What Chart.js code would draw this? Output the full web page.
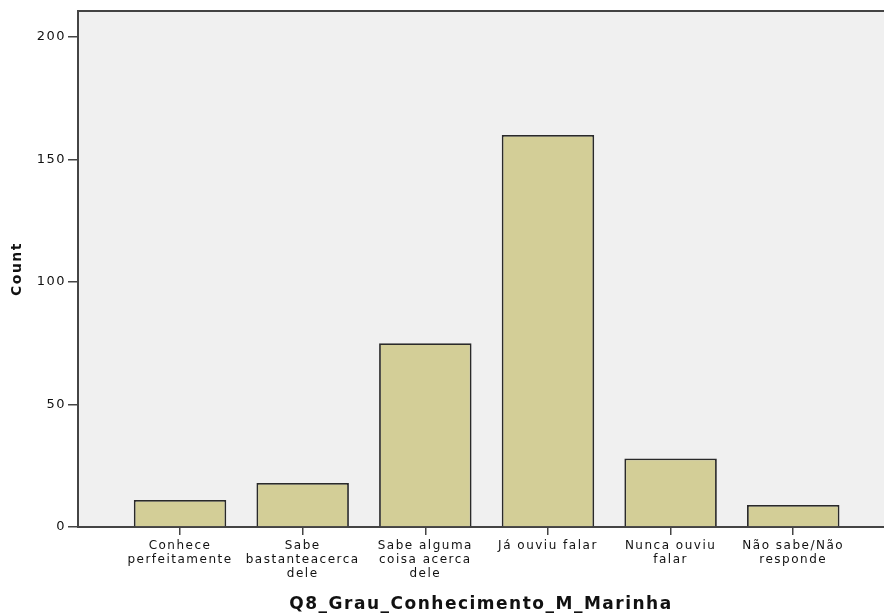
<!DOCTYPE html>
<html>
<head>
<meta charset="utf-8">
<script src="https://cdn.jsdelivr.net/npm/chart.js@4.4.1/dist/chart.umd.min.js"></script>
<style>
  html, body { margin: 0; padding: 0; background: #fff; }
  canvas { display: block; }
</style>
</head>
<body>
<canvas id="knowChart" width="884" height="615"></canvas>
<script>
// Q8 knowledge level counts
const categories = [
    ['Conhece', 'perfeitamente'],
    ['Sabe', 'bastanteacerca', 'dele'],
    ['Sabe alguma', 'coisa acerca', 'dele'],
    'Já ouviu falar',
    ['Nunca ouviu', 'falar'],
    ['Não sabe/Não', 'responde']
];
const counts = [11, 18, 75, 160, 28, 9];
const yTicks = [0, 50, 100, 150, 200];

const FONT = 'DejaVu Sans, Liberation Sans, sans-serif';

// plot panel background + top frame line, and the wide text look of the original
const panelPlugin = {
    id: 'panel',
    beforeDraw(chart) {
        const { ctx, chartArea: a } = chart;
        ctx.letterSpacing = '1.5px';
        ctx.save();
        ctx.fillStyle = '#f0f0f0';
        ctx.fillRect(a.left, a.top, a.right - a.left, a.bottom - a.top);
        ctx.strokeStyle = '#444';
        ctx.lineWidth = 2;
        ctx.beginPath();
        ctx.moveTo(a.left, a.top);
        ctx.lineTo(a.right, a.top);
        ctx.stroke();
        ctx.restore();
    }
};

const ctx = document.getElementById('knowChart').getContext('2d');
new Chart(ctx, {
    type: 'bar',
    data: {
        datasets: [{
            label: 'Count',
            data: counts.map((c, i) => ({ x: i, y: c })),
            backgroundColor: '#d3ce97',
            borderColor: '#2a2a2a',
            borderWidth: 1.8,
            barPercentage: 0.754,
            categoryPercentage: 1
        }]
    },
    options: {
        responsive: false,
        animation: false,
        layout: { padding: { top: 11, left: 0, right: 0, bottom: 0 } },
        plugins: {
            legend: { display: false },
            tooltip: { enabled: false }
        },
        scales: {
            x: {
                type: 'linear',
                offset: false,
                min: -0.832,
                max: 5.74,
                afterBuildTicks(scale) {
                    scale.ticks = categories.map((c, i) => ({ value: i }));
                },
                afterFit(scale) { scale.height = 88; },
                grid: {
                    offset: false,
                    drawOnChartArea: false,
                    drawTicks: true,
                    tickLength: 8,
                    color: '#444',
                    lineWidth: 1.5
                },
                border: { display: true, color: '#444', width: 2 },
                ticks: {
                    autoSkip: false,
                    maxRotation: 0,
                    padding: 4,
                    color: '#111',
                    font: { family: FONT, size: 12, lineHeight: 1.15 },
                    callback: (v) => categories[v]
                },
                title: {
                    display: true,
                    text: 'Q8_Grau_Conhecimento_M_Marinha',
                    color: '#111',
                    font: { family: FONT, size: 17, weight: 'bold' },
                    padding: { top: 4, bottom: 0 }
                }
            },
            y: {
                min: 0,
                max: 210.6,
                afterBuildTicks(scale) {
                    scale.ticks = yTicks.map(v => ({ value: v }));
                },
                afterFit(scale) { scale.width = 78; },
                grid: {
                    drawOnChartArea: false,
                    drawTicks: true,
                    tickLength: 10,
                    color: '#444',
                    lineWidth: 1.5
                },
                border: { display: true, color: '#444', width: 2 },
                ticks: {
                    padding: 2,
                    color: '#111',
                    font: { family: FONT, size: 13 }
                },
                title: {
                    display: true,
                    text: 'Count',
                    color: '#111',
                    font: { family: FONT, size: 14, weight: 'bold' },
                    padding: { top: 9, bottom: 0 }
                }
            }
        }
    },
    plugins: [panelPlugin]
});
</script>
</body>
</html>
